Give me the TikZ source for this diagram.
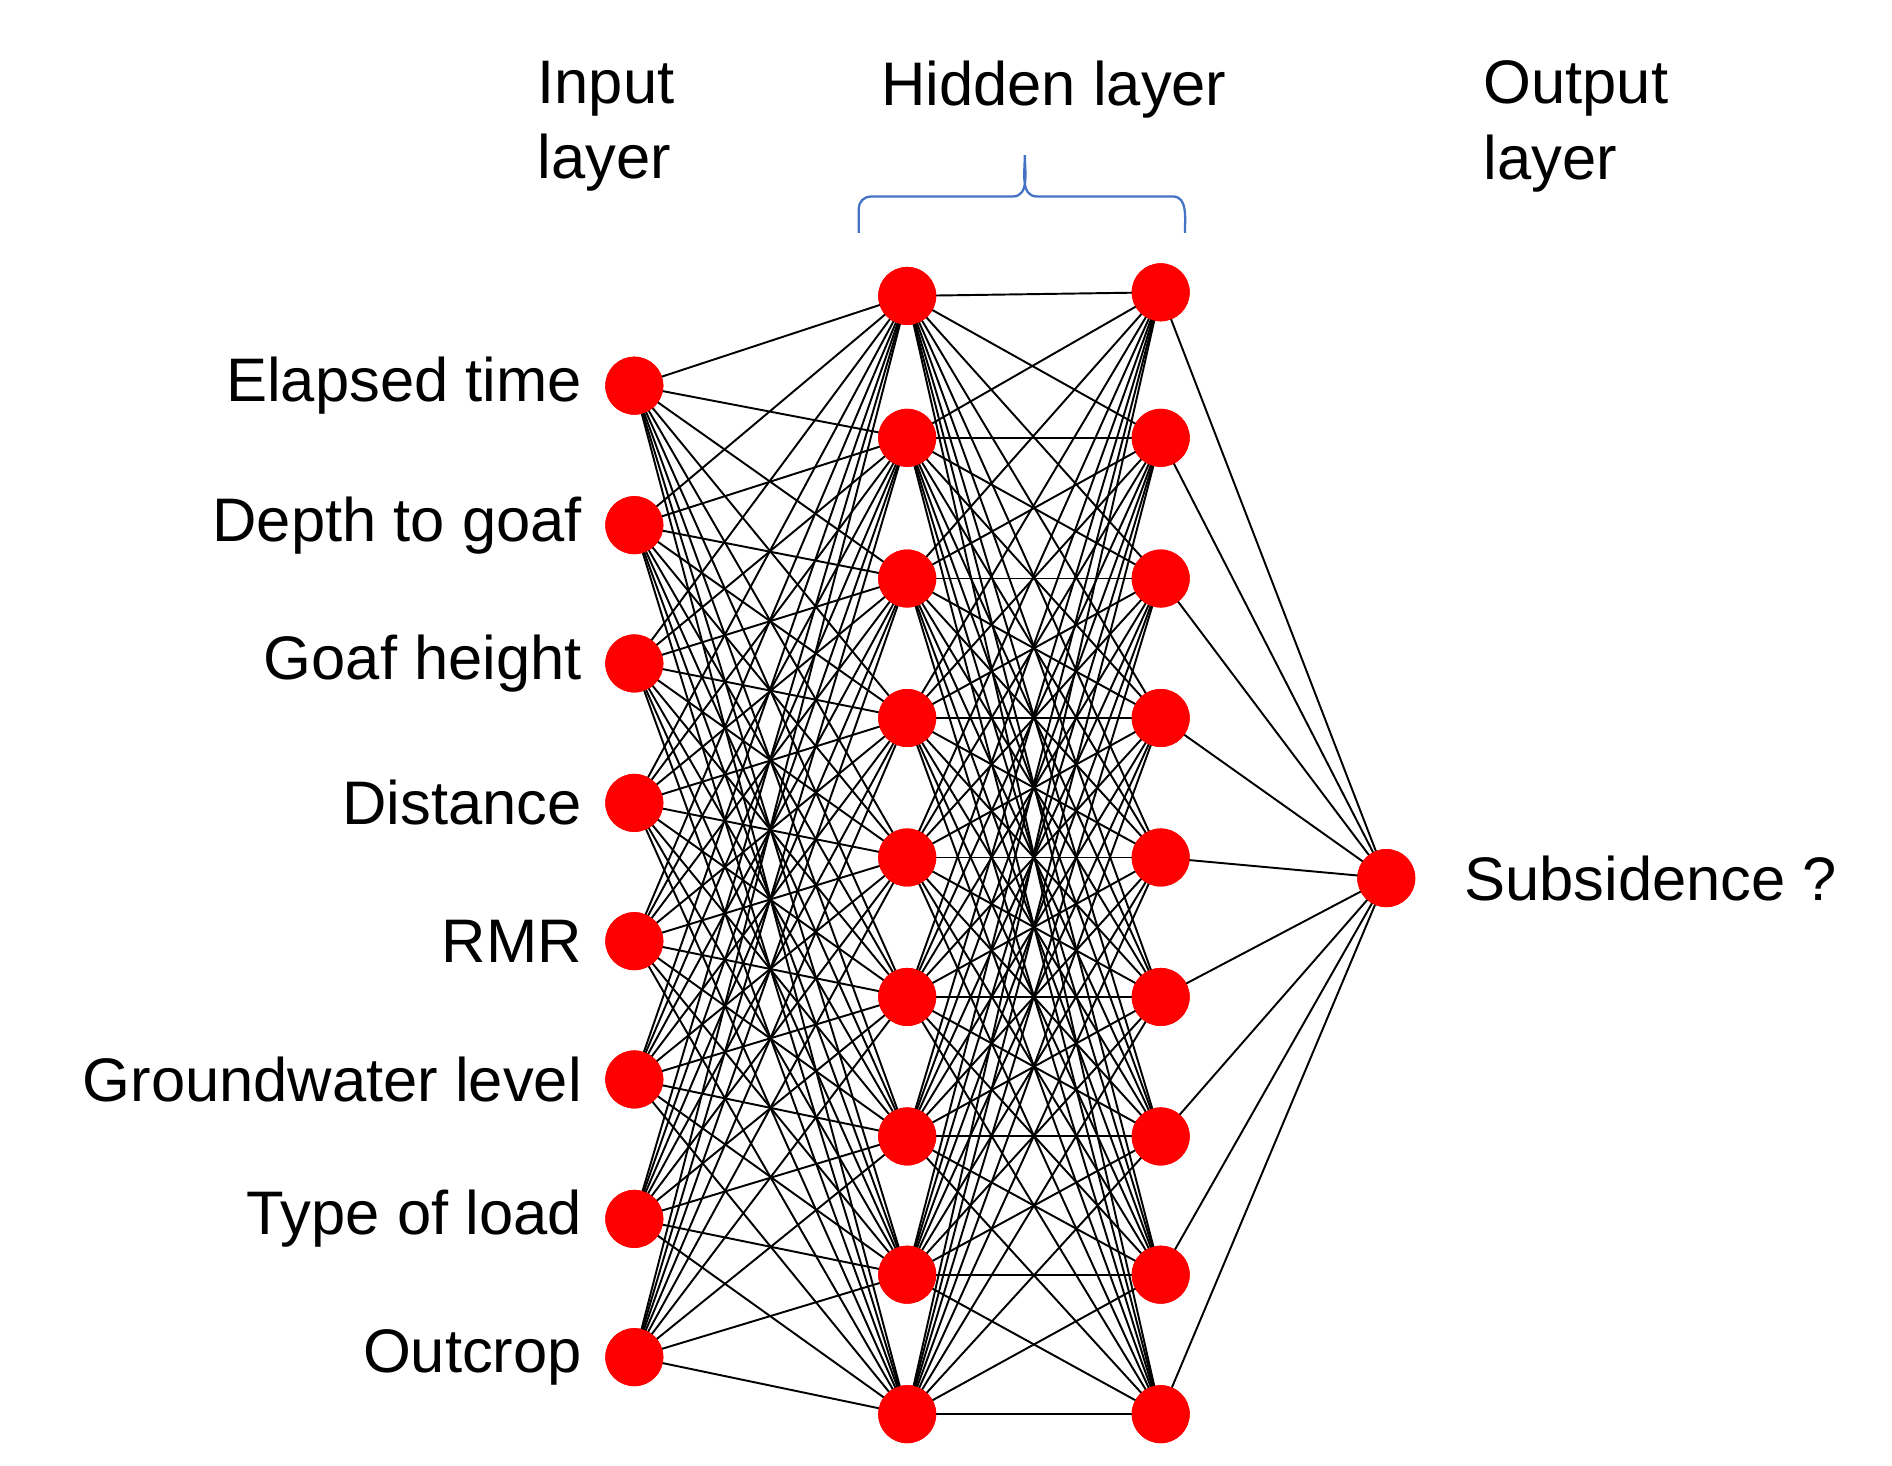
\documentclass[tikz,border=0pt]{standalone}
\usepackage{fontspec}
\setmainfont{Liberation Sans}
\begin{document}
\begin{tikzpicture}[x=0.024256cm,y=-0.024256cm,
  neuron/.style={circle,fill=red,draw=none,minimum size=1.16cm,inner sep=0},
  lab/.style={font=\fontsize{35}{43}\selectfont,inner sep=0},
  conn/.style={line width=1.1pt,black}]
\useasboundingbox (0,0) rectangle (1560,1208);
\foreach \y [count=\i] in {318,433,547,662,776,890,1005,1119} \node[neuron] (i\i) at (523,\y) {};
\foreach \y [count=\i] in {244,361,477,592,707,822,937,1051,1166} \node[neuron] (a\i) at (748,\y) {};
\foreach \y [count=\i] in {241,361,477,592,707,822,937,1051,1166} \node[neuron] (b\i) at (957,\y) {};
\node[neuron] (o) at (1143,724) {};
\foreach \i in {1,...,8}{\foreach \j in {1,...,9}{\draw[conn] (i\i.center) -- (a\j.center);}}
\foreach \i in {1,...,9}{\foreach \j in {1,...,9}{\draw[conn] (a\i.center) -- (b\j.center);}}
\foreach \j in {1,...,9}{\draw[conn] (b\j.center) -- (o.center);}
\foreach \y in {318,433,547,662,776,890,1005,1119} \node[neuron] at (523,\y) {};
\foreach \y in {244,361,477,592,707,822,937,1051,1166} \node[neuron] at (748,\y) {};
\foreach \y in {241,361,477,592,707,822,937,1051,1166} \node[neuron] at (957,\y) {};
\node[neuron] at (1143,724) {};
\foreach \t/\y [count=\i] in {Elapsed time/318,Depth to goaf/433,Goaf height/547,Distance/662,RMR/776,Groundwater level/890,Type of load/1005,Outcrop/1119}
  \node[lab,anchor=east] (l\i) at (480,\y) {\t};
\node[lab,anchor=west] (ls) at (1207,724) {Subsidence ?};
\node[lab,anchor=north west,align=left] (li) at (443,50) {Input\\layer};
\node[lab,anchor=north] (lh) at (869,50) {Hidden layer};
\node[lab,anchor=north west,align=left] (lo) at (1223,50) {Output\\layer};
\coordinate (bl) at (708,192); \coordinate (br) at (977,192);
\draw[color={rgb,255:red,68;green,114;blue,196},line width=1.3pt]
  (bl) -- (708,172) to[out=90,in=180] (718,162) -- (835,162) to[out=0,in=-90] (845,128)
  to[out=-90,in=180] (855,162) -- (967,162) to[out=0,in=90] (br);
\end{tikzpicture}
\end{document}
